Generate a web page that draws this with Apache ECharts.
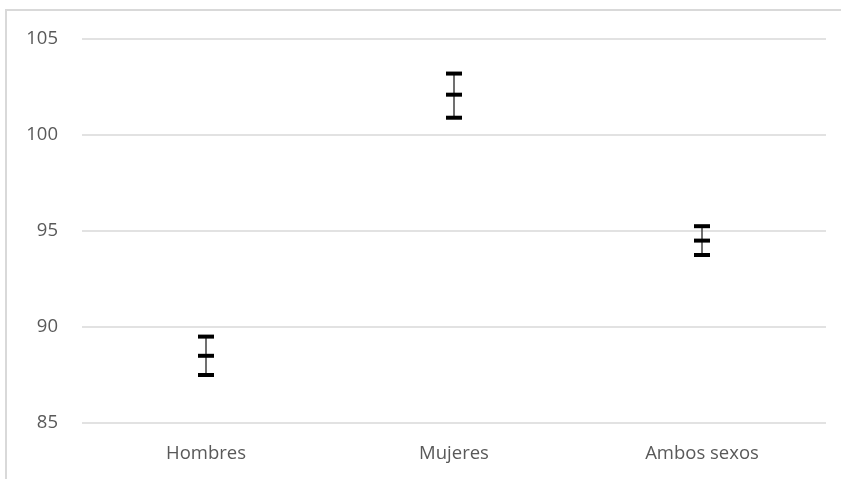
<!DOCTYPE html>
<html>
<head>
<meta charset="utf-8">
<script src="https://cdn.jsdelivr.net/npm/echarts@6/dist/echarts.min.js"></script>
<style>
html,body{margin:0;padding:0;background:#fff;}
#frame{position:absolute;left:5px;top:9px;width:840px;height:480px;border-left:2px solid #d9d9d9;border-top:2px solid #d9d9d9;}
#chart{position:absolute;left:0;top:0;width:841px;height:479px;}
</style>
</head>
<body>
<div id="frame"></div>
<div id="chart"></div>
<script>
const categories = ['Hombres', 'Mujeres', 'Ambos sexos'];
const highValues = [89.5, 103.2, 95.25];
const midValues = [88.5, 102.1, 94.5];
const lowValues = [87.5, 100.9, 93.75];
const yTicks = [85, 90, 95, 100, 105];

const seriesData = categories.map((c, i) => [i, highValues[i], midValues[i], lowValues[i]]);

const chart = echarts.init(document.getElementById('chart'), null, {renderer: 'canvas'});
chart.setOption({
  animation: false,
  backgroundColor: 'transparent',
  grid: {left: 82, right: 15, top: 39, bottom: 56},
  xAxis: {
    type: 'category',
    data: categories,
    axisLine: {show: false},
    axisTick: {show: false},
    axisLabel: {color: '#595959', fontSize: 18.5, fontFamily: 'Open Sans', margin: 21}
  },
  yAxis: {
    type: 'value',
    min: yTicks[0],
    max: yTicks[yTicks.length - 1],
    interval: 5,
    axisLine: {show: false},
    axisTick: {show: false},
    splitLine: {lineStyle: {color: '#d9d9d9', width: 1.5}},
    axisLabel: {color: '#595959', fontSize: 18.5, fontFamily: 'Open Sans', margin: 24}
  },
  series: [{
    type: 'custom',
    data: seriesData,
    encode: {x: 0, y: [1, 2, 3]},
    renderItem: function (params, api) {
      const i = api.value(0);
      const hi = api.coord([i, api.value(1)]);
      const mid = api.coord([i, api.value(2)]);
      const lo = api.coord([i, api.value(3)]);
      const hw = 8;
      const cap = (p) => ({
        type: 'rect',
        shape: {x: p[0] - hw, y: p[1] - 2, width: hw * 2, height: 4},
        style: {fill: '#000'}
      });
      return {
        type: 'group',
        children: [
          {type: 'line', shape: {x1: hi[0], y1: hi[1], x2: lo[0], y2: lo[1]}, style: {stroke: '#404040', lineWidth: 1.5}},
          cap(hi), cap(mid), cap(lo)
        ]
      };
    }
  }]
});
</script>
</body>
</html>
